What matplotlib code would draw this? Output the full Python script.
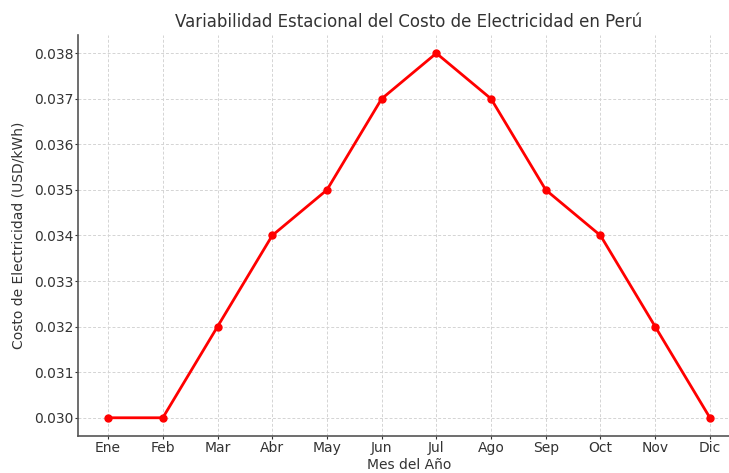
import matplotlib
matplotlib.use("Agg")
import matplotlib.pyplot as plt

# Monthly electricity cost data (USD/kWh)
months = ["Ene", "Feb", "Mar", "Abr", "May", "Jun",
          "Jul", "Ago", "Sep", "Oct", "Nov", "Dic"]
cost = [0.030, 0.030, 0.032, 0.034, 0.035, 0.037,
        0.038, 0.037, 0.035, 0.034, 0.032, 0.030]

text_color = "#333333"
plt.rcParams["text.color"] = text_color
plt.rcParams["axes.labelcolor"] = text_color
plt.rcParams["xtick.color"] = text_color
plt.rcParams["ytick.color"] = text_color

fig = plt.figure(figsize=(7.29, 4.73), dpi=100)
ax = fig.add_axes([78 / 729, 37 / 473, 662 / 729, 401 / 473])

ax.plot(months, cost, marker="o", color="red", linewidth=2, markersize=5)

ax.set_title("Variabilidad Estacional del Costo de Electricidad en Perú", fontsize=12, pad=6)
ax.set_xlabel("Mes del Año", fontsize=10, labelpad=2.5)
ax.set_ylabel("Costo de Electricidad (USD/kWh)", fontsize=10, labelpad=6)
ax.tick_params(labelsize=10, length=2.5, pad=1)
ax.yaxis.set_major_formatter(matplotlib.ticker.FormatStrFormatter("%.3f"))

ax.grid(True, linestyle=(0, (3, 2)), color="#d4d4d4", linewidth=0.7)
ax.spines["top"].set_visible(False)
ax.spines["right"].set_visible(False)
for s in ("left", "bottom"):
    ax.spines[s].set_color("#555555")
    ax.spines[s].set_linewidth(1.2)

fig.savefig("out.png", dpi=100)
